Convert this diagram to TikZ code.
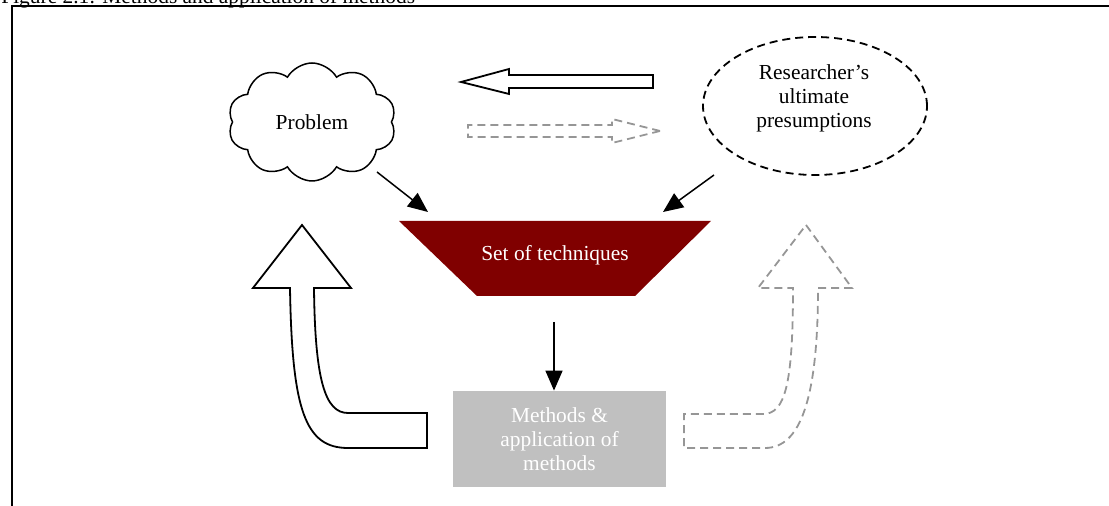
\documentclass[tikz,border=0pt]{standalone}
\usepackage{fontspec}
\setmainfont{Liberation Serif}
\usetikzlibrary{arrows.meta,shapes.geometric,shapes.symbols}
\definecolor{maroonfill}{RGB}{128,0,0}
\definecolor{silverbox}{RGB}{192,192,192}
\definecolor{dashgray}{RGB}{150,150,150}
\begin{document}
\begin{tikzpicture}[x=0.5pt,y=-0.5pt,
  every node/.style={font=\fontsize{10.7}{12}\selectfont},
  arr/.style={line width=0.75pt,-{Triangle[length=10pt,width=8.5pt]}},
  hollow/.style={draw=black,line width=0.9pt,fill=white,line join=miter},
  ghost/.style={draw=dashgray,line width=0.9pt,dash pattern=on 4pt off 2.5pt}]
\useasboundingbox (0,0) rectangle (1109,506);
% title and frame
\node[anchor=base west,inner sep=0] (title) at (1,4) {Figure 2.1: Methods and application of methods};
\draw[line width=1pt] (12,506) -- (12,6.5) -- (1109,6.5);
% problem cloud
\node[cloud,draw,line width=0.75pt,cloud puffs=10,cloud puff arc=120,aspect=1.45,
  minimum width=84pt,minimum height=59pt,inner sep=0] (prob) at (312,122) {Problem};
% researcher ellipse
\node[ellipse,draw,line width=0.9pt,dash pattern=on 4pt off 2.5pt,
  minimum width=112pt,minimum height=69pt,inner sep=0] (res) at (815,106) {};
\node[align=center,inner sep=0] (restext) at (814,98) {Researcher’s\\ultimate\\presumptions};
% horizontal arrows
\draw[hollow] (461,82) -- (509,69) -- (509,75) -- (653,75) -- (653,88) -- (509,88) -- (509,94) -- cycle;
\draw[ghost] (660,131) -- (612,119) -- (612,125) -- (468,125) -- (468,137) -- (612,137) -- (612,143) -- cycle;
% set of techniques
\fill[maroonfill] (399,221) -- (711,221) -- (635,296) -- (477,296) -- cycle;
\node[text=white] (set) at (555,255) {Set of techniques};
% methods box
\node[fill=silverbox,text=white,align=center,minimum width=106.5pt,minimum height=48pt,inner sep=0]
  (meth) at (559.5,439) {Methods \&\\application of\\methods};
% connectors
\coordinate (pa) at (377,172);
\coordinate (pb) at (428,212);
\coordinate (ra) at (714,175);
\coordinate (rb) at (663,212);
\coordinate (sa) at (554,322);
\draw[arr] (pa) -- (pb);
\draw[arr] (ra) -- (rb);
\draw[arr] (sa) -- (meth.north -| sa);
% curved hollow arrows
\draw[hollow] (302,225) -- (351,288) -- (314,288) .. controls (315,380) and (325,413) .. (348,413)
  -- (427,413) -- (427,448) -- (348,448) .. controls (305,448) and (292,410) .. (290,288) -- (253,288) -- cycle;
\draw[ghost] (806,225) -- (852,288) -- (818,288) .. controls (818,400) and (800,448) .. (765,448)
  -- (684,448) -- (684,414) -- (763,414) .. controls (785,414) and (793,385) .. (793,288) -- (758,288) -- cycle;
\end{tikzpicture}
\end{document}
